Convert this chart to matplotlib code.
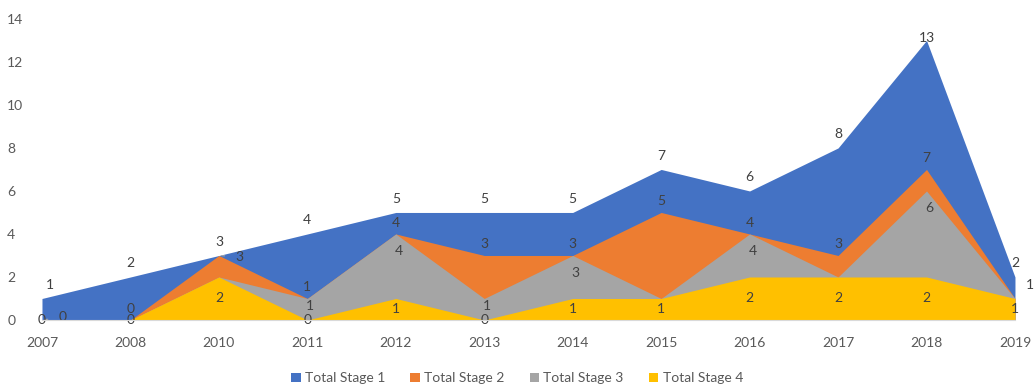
import numpy as np
import matplotlib.pyplot as plt
from matplotlib.patches import Patch

plt.rcParams.update({
    'font.family': ['Lato', 'DejaVu Sans'],
    'font.size': 10,
})

# data
years = ['2007', '2008', '2010', '2011', '2012', '2013', '2014', '2015', '2016', '2017', '2018', '2019']
stage1 = [1, 2, 3, 4, 5, 5, 5, 7, 6, 8, 13, 2]
stage2 = [0, 0, 3, 1, 4, 3, 3, 5, 4, 3, 7, 1]
stage3 = [0, 0, 2, 1, 4, 1, 3, 1, 4, 2, 6, 1]
stage4 = [0, 0, 2, 0, 1, 0, 1, 1, 2, 2, 2, 1]

names = ['Total Stage 1', 'Total Stage 2', 'Total Stage 3', 'Total Stage 4']
colors = ['#4472C4', '#ED7D31', '#A5A5A5', '#FFC000']
series = [stage1, stage2, stage3, stage4]
txt = '#404040'

fig = plt.figure(figsize=(10.34, 3.86), dpi=100)
ax = fig.add_axes([0.0406, 0.171, 0.941, 0.78])

x = np.arange(len(years))
for vals, col in zip(series, colors):
    ax.fill_between(x, 0, vals, color=col, linewidth=0, zorder=2)

lab = dict(color=txt, fontsize=10, zorder=5, ha='center', va='center',
           textcoords='offset points')
n = len(years)

# stage 1: above the point
for i, v in enumerate(stage1):
    dx = 6 if i == 0 else 0
    dy = 1.5 if v == max(stage1) else 10
    ax.annotate(str(v), (x[i], v), xytext=(dx, dy), **lab)

# stage 2: above, or pushed right with a leader line
for i, v in enumerate(stage2):
    if i == 0 or v == stage1[i]:
        ax.annotate(str(v), (x[i], v), xytext=(15, 2 if i == 0 else -1), **lab,
                    arrowprops=dict(arrowstyle='-', color='#A6A6A6', lw=0.8,
                                    shrinkA=6, shrinkB=2))
    elif i == n - 1:
        ax.annotate(str(v), (x[i], v), xytext=(11, 10), annotation_clip=False, **lab)
    else:
        ax.annotate(str(v), (x[i], v), xytext=(0, 8), **lab)

# stage 3: below the point, hidden where it coincides with stage 4
for i, v in enumerate(stage3):
    if v == stage4[i]:
        continue
    ypos = max(v - 0.8, stage4[i] + 0.65)
    ax.annotate(str(v), (x[i], ypos), xytext=(2, 0), **lab)

# stage 4: centred in the band
for i, v in enumerate(stage4):
    ax.annotate(str(v), (x[i], v / 2), xytext=(0, 0), **lab)

ax.set_xlim(0, n - 1)
ax.set_ylim(0, 14)
ax.set_yticks(np.arange(0, 15, 2))
ax.set_xticks(x)
ax.set_xticklabels(years)
ax.tick_params(axis='both', length=0, colors='#595959', labelsize=10)
ax.tick_params(axis='y', pad=25)
for t in ax.get_yticklabels():
    t.set_horizontalalignment('left')
ax.tick_params(axis='x', pad=12)
for s in ['top', 'right', 'left']:
    ax.spines[s].set_visible(False)
ax.spines['bottom'].set_color('#D9D9D9')
ax.spines['bottom'].set_zorder(6)

handles = [Patch(facecolor=c, edgecolor='none') for c in colors]
fig.legend(handles, names, loc='center', bbox_to_anchor=(0.5, 0.02), ncol=4,
           frameon=False, handlelength=0.7, handleheight=0.7, handletextpad=0.3,
           columnspacing=1.8, fontsize=10, labelcolor='#595959')

fig.savefig('out.png', dpi=100)
